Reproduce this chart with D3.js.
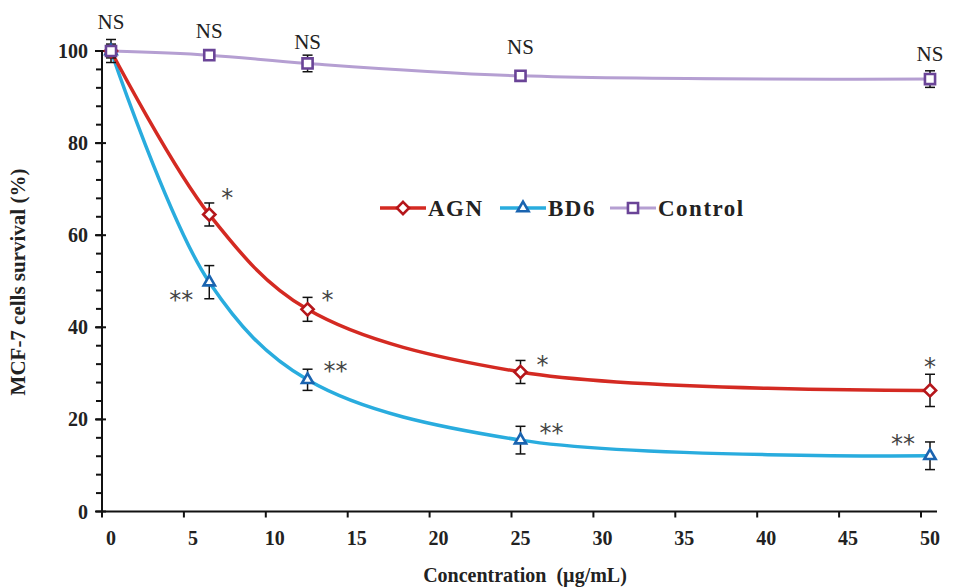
<!DOCTYPE html>
<html lang="en">
<head>
<meta charset="utf-8">
<title>MCF-7 cells survival</title>
<script src="https://d3js.org/d3.v7.min.js"></script>
<style>
  body { margin: 0; padding: 0; background: #fff; }
  svg { display: block; font-family: "Liberation Serif", "Times New Roman", serif; }
  .tick-label { font-size: 20px; font-weight: bold; fill: #222; }
  .axis-title { font-size: 20px; font-weight: bold; fill: #222; white-space: pre; }
  .legend text { font-size: 23px; font-weight: bold; fill: #222; letter-spacing: 1.5px; }
  .ns { font-size: 21px; fill: #222; }
  .star { font-size: 24px; fill: #444; font-family: "DejaVu Sans", sans-serif; }
</style>
</head>
<body>
<svg id="chart" width="959" height="588"></svg>
<script>
// concentrations (ug/mL)
var conc = [0, 6, 12, 25, 50];

var agn = [100, 64.5, 43.9, 30.3, 26.3];
var agnErr = [1.5, 2.5, 2.6, 2.5, 3.5];
var bd6 = [100, 49.8, 28.6, 15.5, 12.1];
var bd6Err = [2.5, 3.6, 2.3, 3.0, 3.0];
var control = [100, 99.1, 97.3, 94.6, 93.9];
var controlErr = [1.0, 0.8, 1.8, 0.8, 1.8];

var agnMarks = ["", "*", "*", "*", "*"];
var bd6Marks = ["", "**", "**", "**", "**"];
var controlMarks = ["NS", "NS", "NS", "NS", "NS"];

var xTicks = [0, 5, 10, 15, 20, 25, 30, 35, 40, 45, 50];
var yTicks = [0, 20, 40, 60, 80, 100];

var svg = d3.select("#chart");

var x = d3.scaleLinear().domain([0, 50]).range([111, 930]);
var y = d3.scaleLinear().domain([0, 100]).range([511.5, 51]);
var tickShift = -9; // tick marks sit a little left of their labels

var curve = d3.curveCatmullRom.alpha(0.5);

// x axis
var xAxis = svg.append("g").attr("transform", "translate(0," + y(0) + ")");
xAxis.append("line")
  .attr("x1", x(0) + tickShift).attr("x2", x(50) + 7)
  .attr("stroke", "#111").attr("stroke-width", 2);
var xt = xAxis.selectAll("g.xt").data(xTicks).enter().append("g")
  .attr("class", "xt")
  .attr("transform", function(d) { return "translate(" + x(d) + ",0)"; });
xt.append("line")
  .attr("x1", tickShift).attr("x2", tickShift)
  .attr("y1", 0).attr("y2", 6)
  .attr("stroke", "#111").attr("stroke-width", 2);
xt.append("text")
  .attr("class", "tick-label")
  .attr("y", 33)
  .attr("text-anchor", "middle")
  .text(function(d) { return d; });

// y axis
var yAxis = svg.append("g").attr("transform", "translate(" + (x(0) + tickShift) + ",0)");
yAxis.append("line")
  .attr("y1", y(0)).attr("y2", y(100))
  .attr("stroke", "#111").attr("stroke-width", 2);
yAxis.selectAll("line.minor").data(d3.range(0, 101, 4)).enter().append("line")
  .attr("class", "minor")
  .attr("x1", -6).attr("x2", 0)
  .attr("y1", function(d) { return y(d); })
  .attr("y2", function(d) { return y(d); })
  .attr("stroke", "#111").attr("stroke-width", 2);
yAxis.selectAll("line.major").data(yTicks).enter().append("line")
  .attr("class", "major")
  .attr("x1", -7).attr("x2", 4)
  .attr("y1", function(d) { return y(d); })
  .attr("y2", function(d) { return y(d); })
  .attr("stroke", "#111").attr("stroke-width", 2);
yAxis.selectAll("text").data(yTicks).enter().append("text")
  .attr("class", "tick-label")
  .attr("x", -14)
  .attr("y", function(d) { return y(d); })
  .attr("dy", "0.35em")
  .attr("text-anchor", "end")
  .text(function(d) { return d; });

// axis titles
svg.append("text").attr("class", "axis-title")
  .attr("x", 525).attr("y", 582).attr("text-anchor", "middle")
  .text("Concentration  (\u00b5g/mL)");
svg.append("text").attr("class", "axis-title")
  .attr("transform", "translate(25,282) rotate(-90)")
  .attr("text-anchor", "middle")
  .style("font-size", "21px")
  .text("MCF-7 cells survival (%)");

var series = [
  { name: "AGN", vals: agn, err: agnErr, line: "#d42a22", mark: "#b5161b", sym: d3.symbolDiamond2, size: 95, width: 3.5 },
  { name: "BD6", vals: bd6, err: bd6Err, line: "#29acde", mark: "#1a64b0", sym: d3.symbolTriangle2, size: 90, width: 3.5 },
  { name: "Control", vals: control, err: controlErr, line: "#b59fd2", mark: "#6a4497", sym: d3.symbolSquare2, size: 130, width: 3 }
];

function pts(s) {
  return conc.map(function(c, i) { return { x: c, v: s.vals[i], e: s.err[i] }; });
}

// lines (control first so it sits behind)
series.slice().reverse().forEach(function(s) {
  svg.append("path")
    .datum(pts(s))
    .attr("fill", "none")
    .attr("stroke", s.line)
    .attr("stroke-width", s.width)
    .attr("d", d3.line().curve(curve)
      .x(function(d) { return x(d.x); })
      .y(function(d) { return y(d.v); }));
});

// error bars
series.forEach(function(s) {
  var g = svg.append("g");
  var eb = g.selectAll("g").data(pts(s)).enter().append("g");
  eb.append("line")
    .attr("x1", function(d) { return x(d.x); })
    .attr("x2", function(d) { return x(d.x); })
    .attr("y1", function(d) { return y(d.v + d.e); })
    .attr("y2", function(d) { return y(d.v - d.e); })
    .attr("stroke", "#111").attr("stroke-width", 1.5);
  [1, -1].forEach(function(sgn) {
    eb.append("line")
      .attr("x1", function(d) { return x(d.x) - 5; })
      .attr("x2", function(d) { return x(d.x) + 5; })
      .attr("y1", function(d) { return y(d.v + sgn * d.e); })
      .attr("y2", function(d) { return y(d.v + sgn * d.e); })
      .attr("stroke", "#111").attr("stroke-width", 1.5);
  });
});

// markers
series.forEach(function(s) {
  svg.append("g").selectAll("path").data(pts(s)).enter().append("path")
    .attr("transform", function(d) { return "translate(" + x(d.x) + "," + y(d.v) + ")"; })
    .attr("d", d3.symbol().type(s.sym).size(s.size))
    .attr("fill", "#fff")
    .attr("stroke", s.mark)
    .attr("stroke-width", 2.6);
});

// significance labels
var nsOff = [[0, -22], [0, -17], [0, -14], [0, -22], [0, -18]];
svg.append("g").selectAll("text").data(controlMarks).enter().append("text")
  .attr("class", "ns")
  .attr("text-anchor", "middle")
  .attr("x", function(d, i) { return x(conc[i]) + nsOff[i][0]; })
  .attr("y", function(d, i) { return y(control[i]) + nsOff[i][1]; })
  .text(function(d) { return d; });

var agnOff = [[0, 0], [18, -8], [20, -1], [22, 1], [0, -15]];
svg.append("g").selectAll("text").data(agnMarks).enter().append("text")
  .attr("class", "star")
  .attr("text-anchor", "middle")
  .attr("x", function(d, i) { return x(conc[i]) + agnOff[i][0]; })
  .attr("y", function(d, i) { return y(agn[i]) + agnOff[i][1]; })
  .text(function(d) { return d; });

var bd6Off = [[0, 0], [-28, 26], [28, -1], [31, 1], [-27, -4]];
svg.append("g").selectAll("text").data(bd6Marks).enter().append("text")
  .attr("class", "star")
  .attr("text-anchor", "middle")
  .attr("x", function(d, i) { return x(conc[i]) + bd6Off[i][0]; })
  .attr("y", function(d, i) { return y(bd6[i]) + bd6Off[i][1]; })
  .text(function(d) { return d; });

// legend
var legX = [380, 500, 610];
var legend = svg.append("g").attr("class", "legend").attr("transform", "translate(0,208)")
  .selectAll("g").data(series).enter().append("g")
  .attr("transform", function(d, i) { return "translate(" + legX[i] + ",0)"; });
legend.append("line")
  .attr("x1", 0).attr("x2", 46)
  .attr("stroke", function(d) { return d.line; })
  .attr("stroke-width", function(d) { return d.width; });
legend.append("path")
  .attr("transform", "translate(23,0)")
  .attr("d", function(d) { return d3.symbol().type(d.sym).size(d.size)(); })
  .attr("fill", "#fff")
  .attr("stroke", function(d) { return d.mark; })
  .attr("stroke-width", 2.6);
legend.append("text")
  .attr("x", 48)
  .attr("dy", "0.35em")
  .text(function(d) { return d.name; });
</script>
</body>
</html>
